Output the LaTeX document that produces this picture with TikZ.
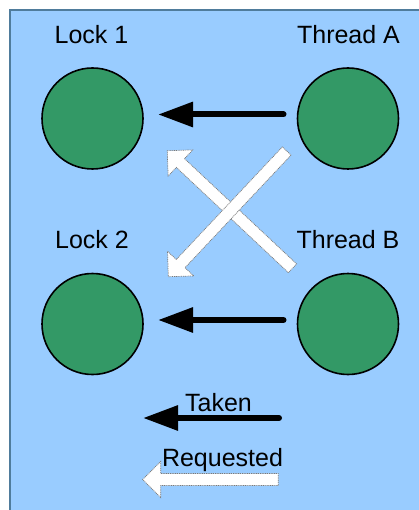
\documentclass[tikz,border=0pt]{standalone}
\usepackage{fontspec}
\setmainfont{Liberation Sans}
\usetikzlibrary{arrows.meta,calc}

\definecolor{paneblue}{HTML}{99CCFF}
\definecolor{paneedge}{HTML}{4F7C9C}
\definecolor{lockgreen}{HTML}{339966}
\definecolor{dotgray}{HTML}{7A7A7A}

\tikzset{
  lockdisc/.style={circle, draw=black, line width=1.6pt, fill=lockgreen,
                   minimum size=101pt, inner sep=0pt},
  caption/.style={anchor=base, inner sep=0pt,
                  font=\fontsize{25}{30}\selectfont},
  taken/.style={line width=6pt, line cap=round,
                -{Triangle[length=35pt,width=24pt]}},
  requested/.style={fill=white, draw=dotgray, line width=0.7pt,
                    dash pattern=on 1pt off 0.8pt, line join=miter},
}

% White block arrow from tail #1 to tip #2 (shaft half-width 6, head 18)
\newcommand\blockarrow[2]{%
  \path[requested]
    ($(#1)!6pt!90:(#2)$) --
    ($($(#2)!18pt!(#1)$)!6pt!-90:(#1)$) --
    ($($(#2)!18pt!(#1)$)!18pt!-90:(#1)$) --
    (#2) --
    ($($(#2)!18pt!(#1)$)!18pt!90:(#1)$) --
    ($($(#2)!18pt!(#1)$)!6pt!90:(#1)$) --
    ($(#1)!6pt!-90:(#2)$) -- cycle;
}

\begin{document}
\begin{tikzpicture}[x=1pt, y=-1pt]
  \useasboundingbox (0,0) rectangle (419,510);
  \begin{scope}
    \clip (0,0) rectangle (419,510);
    \fill[paneblue] (10,10) rectangle (430,520);
    \draw[paneedge, line width=2pt] (10,530) -- (10,10) -- (430,10);
  \end{scope}

  % locks and threads
  \node[lockdisc] (lock1)   at (92.5,118.5) {};
  \node[lockdisc] (threadA) at (348,118.5) {};
  \node[lockdisc] (lock2)   at (92.5,324) {};
  \node[lockdisc] (threadB) at (348,324) {};

  \node[caption] (lbl1) at (91.5,44)  {Lock 1};
  \node[caption] (lblA) at (348.5,44) {Thread A};
  \node[caption] (lbl2) at (92,248)   {Lock 2};
  \node[caption] (lblB) at (348,248)  {Thread B};

  % taken locks
  \coordinate (tA) at (283.5,114.5);
  \coordinate (hA) at (158,114.5);
  \coordinate (tB) at (283.5,320);
  \coordinate (hB) at (158,320);
  \draw[taken] (tA) -- (hA);
  \draw[taken] (tB) -- (hB);

  % requested locks
  \coordinate (rAt) at (292.5,268.3);
  \coordinate (rAh) at (167.3,150.7);
  \coordinate (rBt) at (286.7,151);
  \coordinate (rBh) at (168.3,276.7);
  \blockarrow{rAt}{rAh}
  \blockarrow{rBt}{rBh}

  % legend
  \coordinate (kt) at (279,418);
  \coordinate (kh) at (143,418);
  \draw[taken] (kt) -- (kh);
  \node[caption] (kTaken) at (218.5,411.5) {Taken};

  \coordinate (qt) at (278.3,479.5);
  \coordinate (qh) at (142.7,479.5);
  \blockarrow{qt}{qh}
  \node[caption] (kReq) at (222.5,466) {Requested};
\end{tikzpicture}
\end{document}
